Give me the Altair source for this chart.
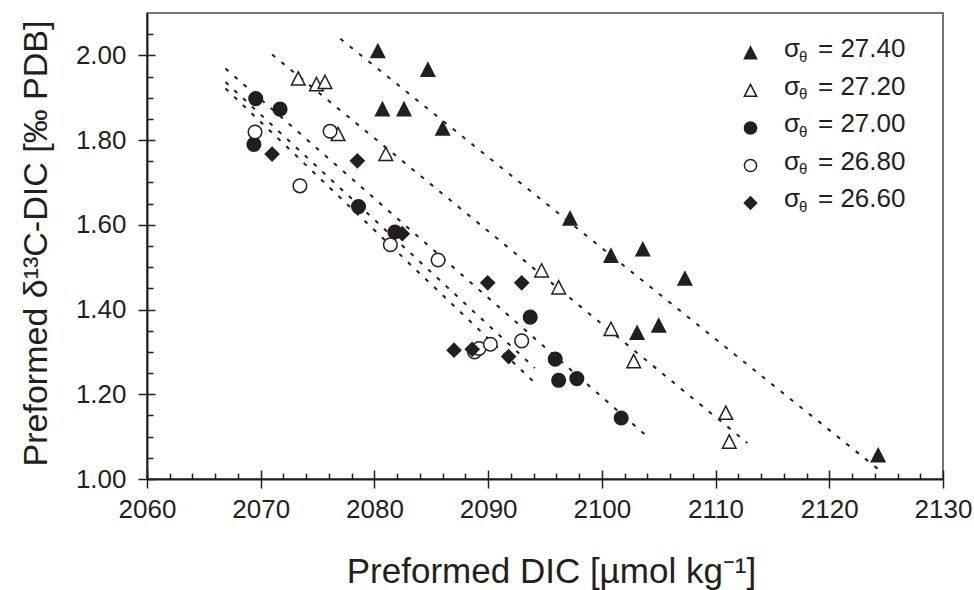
import altair as alt
import pandas as pd

INK = "#231f20"
FONT = "Liberation Sans"

# ---- data ----
series_labels = ["27.40", "27.20", "27.00", "26.80", "26.60"]

dic_2740 = [2080.3, 2084.7, 2080.7, 2082.6, 2086.0, 2097.2, 2100.8, 2103.6, 2107.3, 2103.1, 2105.0, 2124.3]
d13c_2740 = [2.010, 1.966, 1.873, 1.873, 1.827, 1.615, 1.527, 1.542, 1.473, 1.345, 1.362, 1.056]

dic_2720 = [2073.3, 2074.9, 2075.65, 2076.8, 2081.0, 2094.7, 2096.2, 2100.8, 2102.8, 2110.9, 2111.2]
d13c_2720 = [1.945, 1.932, 1.937, 1.814, 1.767, 1.492, 1.452, 1.354, 1.278, 1.156, 1.088]

dic_2700 = [2069.56, 2071.7, 2069.4, 2078.6, 2081.8, 2093.7, 2095.9, 2096.2, 2097.8, 2101.7]
d13c_2700 = [1.898, 1.873, 1.790, 1.643, 1.583, 1.382, 1.283, 1.233, 1.237, 1.144]

dic_2680 = [2069.5, 2076.1, 2073.45, 2081.4, 2085.6, 2088.8, 2089.2, 2090.2, 2092.95]
d13c_2680 = [1.819, 1.821, 1.692, 1.553, 1.517, 1.300, 1.308, 1.318, 1.326]

dic_2660 = [2071.0, 2078.5, 2082.45, 2089.96, 2092.95, 2087.0, 2088.6, 2091.8]
d13c_2660 = [1.767, 1.751, 1.579, 1.463, 1.463, 1.304, 1.306, 1.289]

# dashed regression lines (end points)
line_series = ["27.40", "27.20", "27.00", "26.80", "26.60"]
line_x0 = [2077.0, 2071.0, 2066.9, 2066.9, 2066.9]
line_y0 = [2.039, 2.002, 1.969, 1.937, 1.922]
line_x1 = [2124.5, 2112.8, 2104.0, 2094.1, 2094.1]
line_y1 = [1.019, 1.085, 1.100, 1.262, 1.227]

x_major = [2060, 2070, 2080, 2090, 2100, 2110, 2120, 2130]
x_minor = [v for v in range(2062, 2130, 2) if v % 10 != 0]
y_major = [1.0, 1.2, 1.4, 1.6, 1.8, 2.0]
y_minor = [round(1.0 + 0.05 * i, 2) for i in range(1, 22) if i % 4 != 0]

# ---- tables ----
rows = []
for lab, xs_, ys_ in zip(series_labels,
                         [dic_2740, dic_2720, dic_2700, dic_2680, dic_2660],
                         [d13c_2740, d13c_2720, d13c_2700, d13c_2680, d13c_2660]):
    for a, b in zip(xs_, ys_):
        rows.append({"series": lab, "dic": a, "d13c": b})
pts = pd.DataFrame(rows)

lrows = []
for s, a0, b0, a1, b1 in zip(line_series, line_x0, line_y0, line_x1, line_y1):
    lrows.append({"series": s, "dic": a0, "d13c": b0})
    lrows.append({"series": s, "dic": a1, "d13c": b1})
lines_df = pd.DataFrame(lrows)

leg = pd.DataFrame({"series": series_labels, "entry": ["= " + s for s in series_labels]})

xsc = alt.Scale(domain=[2060, 2130], nice=False, zero=False)
ysc = alt.Scale(domain=[1.0, 2.1], nice=False, zero=False)

TRI = "M0,-1L1,0.95L-1,0.95Z"
shape_scale = alt.Scale(domain=series_labels, range=[TRI, TRI, "circle", "circle", "diamond"])
fill_scale = alt.Scale(domain=series_labels, range=[INK, "white", INK, "white", INK])

lines = alt.Chart(lines_df).mark_line(strokeDash=[4, 8], strokeWidth=2, color=INK).encode(
    x=alt.X("dic:Q", scale=xsc, axis=None),
    y=alt.Y("d13c:Q", scale=ysc, axis=None),
    detail="series:N",
)

points = alt.Chart(pts).mark_point(filled=True, size=185, strokeWidth=1.5, opacity=1).encode(
    x=alt.X("dic:Q", scale=xsc, axis=alt.Axis(
        orient="bottom", values=x_major, format="d", offset=-9, tickSize=18, tickWidth=1.5,
        tickColor=INK, domain=False, grid=False, labelFont=FONT, labelFontSize=26,
        labelColor=INK, labelPadding=8, labelFlush=False, labelOverlap=False,
        title="Preformed DIC [µmol kg⁻¹]", titleFont=FONT, titleFontSize=35,
        titleFontWeight="normal", titleColor=INK, titleX=404, titleY=101,
        titleBaseline="middle")),
    y=alt.Y("d13c:Q", scale=ysc, axis=alt.Axis(
        orient="left", values=y_major, format=".2f", offset=-8, tickSize=17, tickWidth=1.5,
        tickColor=INK, domain=False, grid=False, labelFont=FONT, labelFontSize=26,
        labelColor=INK, labelPadding=12, labelFlush=False, labelOverlap=False,
        title="Preformed δ¹³C-DIC [‰ PDB]", titleFont=FONT, titleFontSize=34,
        titleFontWeight="normal", titleColor=INK, titleX=-119, titleY=230,
        titleBaseline="middle")),
    shape=alt.Shape("series:N", scale=shape_scale, legend=None),
    fill=alt.Fill("series:N", scale=fill_scale, legend=None),
    stroke=alt.value(INK),
)

minor = alt.Chart(pts).mark_point(opacity=0).encode(
    x=alt.X("dic:Q", scale=xsc, axis=alt.Axis(
        orient="bottom", values=x_minor, offset=-6, tickSize=6, tickWidth=1.5, tickColor=INK,
        labels=False, domain=False, grid=False, title=None)),
    y=alt.Y("d13c:Q", scale=ysc, axis=alt.Axis(
        orient="left", values=y_minor, offset=-6, tickSize=6, tickWidth=1.5, tickColor=INK,
        labels=False, domain=False, grid=False, title=None)),
)

frame = alt.Chart(pts).mark_point(opacity=0).encode(
    x=alt.X("dic:Q", scale=xsc, axis=alt.Axis(
        orient="bottom", offset=0, ticks=False, labels=False, domain=True, domainWidth=2,
        domainColor=INK, grid=False, title=None)),
    y=alt.Y("d13c:Q", scale=ysc, axis=alt.Axis(
        orient="left", offset=0, ticks=False, labels=False, domain=True, domainWidth=2,
        domainColor=INK, grid=False, title=None)),
)

leg_marker = alt.Chart(leg).mark_point(filled=True, size=150, strokeWidth=1.5, opacity=1).encode(
    x=alt.value(603.5),
    y=alt.Y("series:N", scale=alt.Scale(type="point", domain=series_labels, range=[40, 190], padding=0), axis=None),
    shape=alt.Shape("series:N", scale=shape_scale, legend=None),
    fill=alt.Fill("series:N", scale=fill_scale, legend=None),
    stroke=alt.value(INK),
)

txt_scale = alt.Scale(type="point", domain=series_labels, range=[44.3, 194.3], padding=0)
leg_sigma = alt.Chart(leg).mark_text(text="σ", font=FONT, fontSize=26, align="left",
                                     baseline="alphabetic", color=INK).encode(
    x=alt.value(637), y=alt.Y("series:N", scale=txt_scale, axis=None))
leg_theta = alt.Chart(leg).mark_text(text="θ", font=FONT, fontSize=15, align="left",
                                     baseline="alphabetic", dy=4.5, color=INK).encode(
    x=alt.value(652), y=alt.Y("series:N", scale=txt_scale, axis=None))
leg_value = alt.Chart(leg).mark_text(font=FONT, fontSize=26, align="left",
                                     baseline="alphabetic", color=INK).encode(
    x=alt.value(671), y=alt.Y("series:N", scale=txt_scale, axis=None), text="entry:N")

chart = alt.layer(lines, points, minor, frame, leg_marker, leg_sigma, leg_theta, leg_value).resolve_scale(
    y="independent").resolve_axis(x="independent", y="independent").properties(
    width=796, height=466,
    padding={"left": 147, "top": 13, "right": 31, "bottom": 111},
    autosize=alt.AutoSizeParams(type="none"),
    background="white",
).configure_view(stroke="#4a4a4a", strokeWidth=1.5)

chart.save("out.html", embed_options={"renderer": "svg", "actions": False})
